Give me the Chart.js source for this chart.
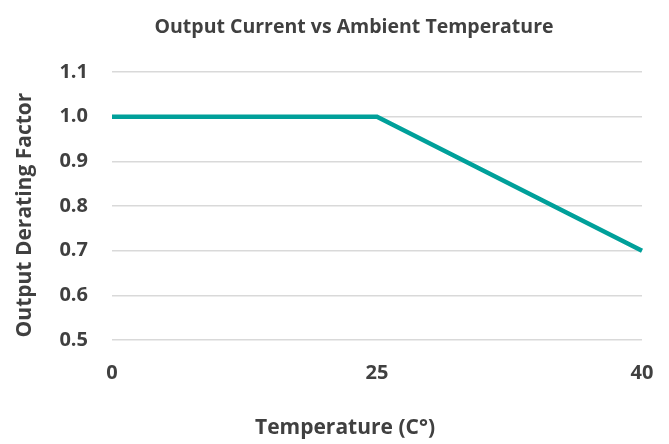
<!DOCTYPE html>
<html lang="en">
<head>
  <meta charset="UTF-8">
  <title>Output Current vs Ambient Temperature</title>
  <script src="https://cdn.jsdelivr.net/npm/chart.js"></script>
  <style>
    html, body { margin: 0; padding: 0; background: #fff; }
    #wrap { width: 669px; height: 444px; }
  </style>
</head>
<body>
  <div id="wrap">
    <canvas id="lineChart" width="669" height="444"></canvas>
  </div>

<script>
  // dados
  const temperaturas = ['0', '25', '40'];
  const fatores = [1.0, 1.0, 0.7];
  const yMin = 0.5;
  const yMax = 1.1;
  const yPasso = 0.1;

  const titulo = 'Output Current vs Ambient Temperature';
  const tituloX = 'Temperature (C°)';
  const tituloY = 'Output Derating Factor';

  const corTexto = '#404040';
  const fonte = "'Open Sans', 'DejaVu Sans', sans-serif";

  // titulos desenhados a mao, centralizados como no Excel
  const titulosPlugin = {
    id: 'titulos',
    afterDraw(chart) {
      const ctx = chart.ctx;
      ctx.save();
      ctx.fillStyle = corTexto;
      ctx.textAlign = 'center';
      ctx.textBaseline = 'middle';
      ctx.font = 'bold 19.5px ' + fonte;
      ctx.fillText(titulo, 354, 27);
      ctx.font = 'bold 21px ' + fonte;
      ctx.fillText(tituloX, 345, 428);
      ctx.translate(25, 215);
      ctx.rotate(-Math.PI / 2);
      ctx.fillText(tituloY, 0, 0);
      ctx.restore();
    }
  };

  const config = {
    type: 'line',
    data: {
      labels: temperaturas,
      datasets: [{
        data: fatores,
        borderColor: '#00a09a',
        borderWidth: 4.5,
        pointRadius: 0,
        fill: false,
        tension: 0
      }]
    },
    options: {
      responsive: false,
      animation: false,
      layout: { padding: { top: 72, right: 27, left: 0, bottom: 0 } },
      plugins: {
        legend: { display: false },
        tooltip: { enabled: false }
      },
      scales: {
        x: {
          offset: false,
          grid: { display: false },
          border: { display: false },
          ticks: {
            color: corTexto,
            font: { family: fonte, size: 20, weight: 'bold' },
            padding: 13,
            maxRotation: 0
          },
          afterFit(scale) {
            scale.height = 104;
            scale.paddingLeft = 0;
            scale.paddingRight = 0;
          }
        },
        y: {
          min: yMin,
          max: yMax,
          grid: { color: '#d9d9d9', lineWidth: 1.5, drawTicks: false },
          border: { display: false },
          ticks: {
            stepSize: yPasso,
            color: corTexto,
            font: { family: fonte, size: 20, weight: 'bold' },
            padding: 24,
            callback: (v) => v.toFixed(1)
          },
          afterFit(scale) {
            scale.width = 112;
            scale.paddingTop = 0;
            scale.paddingBottom = 0;
          }
        }
      }
    },
    plugins: [titulosPlugin]
  };

  new Chart(document.getElementById('lineChart'), config);
</script>
</body>
</html>
